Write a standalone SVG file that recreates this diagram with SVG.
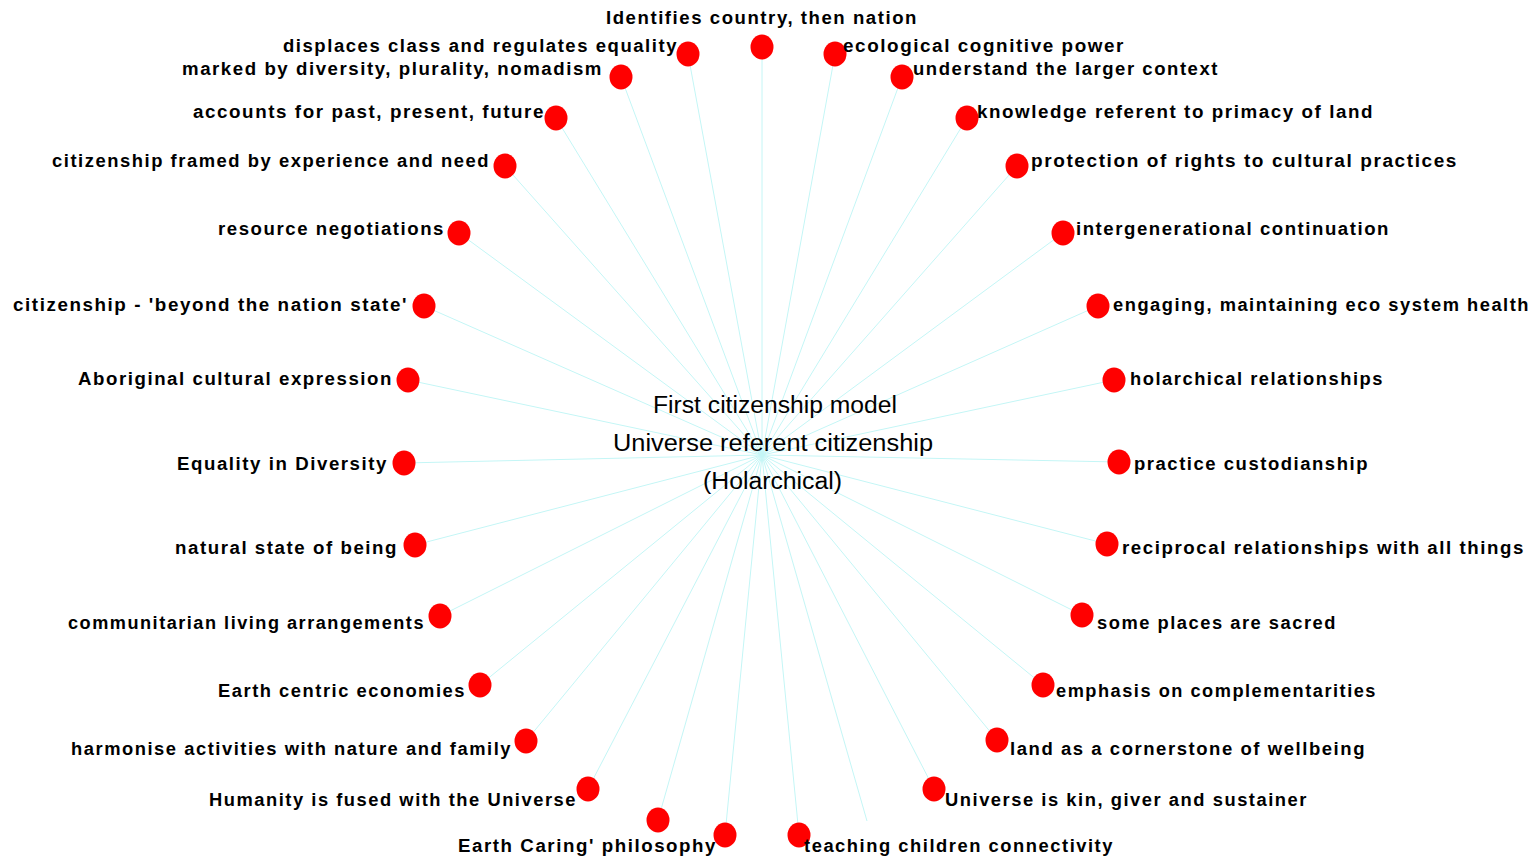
<svg xmlns="http://www.w3.org/2000/svg" width="1539" height="863" viewBox="0 0 1539 863">
<style>
.bg{fill:#ffffff}
.e{stroke:#c4f6f6;stroke-width:1;fill:none}
.d{fill:#ff0000}
.t{font-family:"Liberation Sans",Arial,sans-serif;font-weight:bold;font-size:18px;letter-spacing:1.5px;fill:#000000}
.c{font-family:"Liberation Sans",Arial,sans-serif;font-size:23px;fill:#000000}
</style>
<rect class="bg" x="0" y="0" width="1539" height="863"/>
<g id="connectors">
<line class="e" x1="762" y1="455" x2="762" y2="47"/>
<line class="e" x1="762" y1="455" x2="688" y2="54"/>
<line class="e" x1="762" y1="455" x2="621" y2="77"/>
<line class="e" x1="762" y1="455" x2="556" y2="118"/>
<line class="e" x1="762" y1="455" x2="505" y2="166"/>
<line class="e" x1="762" y1="455" x2="459" y2="233"/>
<line class="e" x1="762" y1="455" x2="424" y2="306"/>
<line class="e" x1="762" y1="455" x2="408" y2="380"/>
<line class="e" x1="762" y1="455" x2="404" y2="463"/>
<line class="e" x1="762" y1="455" x2="415" y2="545"/>
<line class="e" x1="762" y1="455" x2="440" y2="616"/>
<line class="e" x1="762" y1="455" x2="480" y2="685"/>
<line class="e" x1="762" y1="455" x2="526" y2="741"/>
<line class="e" x1="762" y1="455" x2="588" y2="789"/>
<line class="e" x1="762" y1="455" x2="658" y2="820"/>
<line class="e" x1="762" y1="455" x2="725" y2="835"/>
<line class="e" x1="762" y1="455" x2="799" y2="835"/>
<line class="e" x1="762" y1="455" x2="867" y2="821"/>
<line class="e" x1="762" y1="455" x2="934" y2="789"/>
<line class="e" x1="762" y1="455" x2="997" y2="740"/>
<line class="e" x1="762" y1="455" x2="1043" y2="685"/>
<line class="e" x1="762" y1="455" x2="1082" y2="615"/>
<line class="e" x1="762" y1="455" x2="1107" y2="544"/>
<line class="e" x1="762" y1="455" x2="1119" y2="462"/>
<line class="e" x1="762" y1="455" x2="1114" y2="380"/>
<line class="e" x1="762" y1="455" x2="1098" y2="306"/>
<line class="e" x1="762" y1="455" x2="1063" y2="233"/>
<line class="e" x1="762" y1="455" x2="1017" y2="166"/>
<line class="e" x1="762" y1="455" x2="967" y2="118"/>
<line class="e" x1="762" y1="455" x2="902" y2="77"/>
<line class="e" x1="762" y1="455" x2="835" y2="54"/>
</g>
<g id="center">
<text class="c" x="653" y="413" textLength="244" lengthAdjust="spacingAndGlyphs">First citizenship model</text>
<text class="c" x="613" y="451" textLength="320" lengthAdjust="spacingAndGlyphs">Universe referent citizenship</text>
<text class="c" x="703" y="489" textLength="139" lengthAdjust="spacingAndGlyphs">(Holarchical)</text>
</g>
<g id="n1"><ellipse class="d" cx="762" cy="47" rx="11.5" ry="12.5"/><text class="t" x="606" y="24" textLength="312" lengthAdjust="spacingAndGlyphs">Identifies country, then nation</text></g>
<g id="n2"><ellipse class="d" cx="688" cy="54" rx="11.5" ry="12.5"/><text class="t" x="283" y="52" textLength="395" lengthAdjust="spacingAndGlyphs">displaces class and regulates equality</text></g>
<g id="n3"><ellipse class="d" cx="621" cy="77" rx="11.5" ry="12.5"/><text class="t" x="182" y="75" textLength="421" lengthAdjust="spacingAndGlyphs">marked by diversity, plurality, nomadism</text></g>
<g id="n4"><ellipse class="d" cx="556" cy="118" rx="11.5" ry="12.5"/><text class="t" x="193" y="118" textLength="352" lengthAdjust="spacingAndGlyphs">accounts for past, present, future</text></g>
<g id="n5"><ellipse class="d" cx="505" cy="166" rx="11.5" ry="12.5"/><text class="t" x="52" y="167" textLength="438" lengthAdjust="spacingAndGlyphs">citizenship framed by experience and need</text></g>
<g id="n6"><ellipse class="d" cx="459" cy="233" rx="11.5" ry="12.5"/><text class="t" x="218" y="235" textLength="227" lengthAdjust="spacingAndGlyphs">resource negotiations</text></g>
<g id="n7"><ellipse class="d" cx="424" cy="306" rx="11.5" ry="12.5"/><text class="t" x="13" y="311" textLength="395" lengthAdjust="spacingAndGlyphs">citizenship - 'beyond the nation state'</text></g>
<g id="n8"><ellipse class="d" cx="408" cy="380" rx="11.5" ry="12.5"/><text class="t" x="78" y="385" textLength="315" lengthAdjust="spacingAndGlyphs">Aboriginal cultural expression</text></g>
<g id="n9"><ellipse class="d" cx="404" cy="463" rx="11.5" ry="12.5"/><text class="t" x="177" y="470" textLength="211" lengthAdjust="spacingAndGlyphs">Equality in Diversity</text></g>
<g id="n10"><ellipse class="d" cx="415" cy="545" rx="11.5" ry="12.5"/><text class="t" x="175" y="554" textLength="223" lengthAdjust="spacingAndGlyphs">natural state of being</text></g>
<g id="n11"><ellipse class="d" cx="440" cy="616" rx="11.5" ry="12.5"/><text class="t" x="68" y="629" textLength="357" lengthAdjust="spacingAndGlyphs">communitarian living arrangements</text></g>
<g id="n12"><ellipse class="d" cx="480" cy="685" rx="11.5" ry="12.5"/><text class="t" x="218" y="697" textLength="248" lengthAdjust="spacingAndGlyphs">Earth centric economies</text></g>
<g id="n13"><ellipse class="d" cx="526" cy="741" rx="11.5" ry="12.5"/><text class="t" x="71" y="755" textLength="441" lengthAdjust="spacingAndGlyphs">harmonise activities with nature and family</text></g>
<g id="n14"><ellipse class="d" cx="588" cy="789" rx="11.5" ry="12.5"/><text class="t" x="209" y="806" textLength="368" lengthAdjust="spacingAndGlyphs">Humanity is fused with the Universe</text></g>
<g id="n15"><ellipse class="d" cx="658" cy="820" rx="11.5" ry="12.5"/></g>
<g id="n16"><ellipse class="d" cx="725" cy="835" rx="11.5" ry="12.5"/><text class="t" x="458" y="852" textLength="259" lengthAdjust="spacingAndGlyphs">Earth Caring' philosophy</text></g>
<g id="n17"><ellipse class="d" cx="799" cy="835" rx="11.5" ry="12.5"/><text class="t" x="804" y="852" textLength="310" lengthAdjust="spacingAndGlyphs">teaching children connectivity</text></g>
<g id="n18"><ellipse class="d" cx="934" cy="789" rx="11.5" ry="12.5"/><text class="t" x="945" y="806" textLength="363" lengthAdjust="spacingAndGlyphs">Universe is kin, giver and sustainer</text></g>
<g id="n19"><ellipse class="d" cx="997" cy="740" rx="11.5" ry="12.5"/><text class="t" x="1010" y="755" textLength="356" lengthAdjust="spacingAndGlyphs">land as a cornerstone of wellbeing</text></g>
<g id="n20"><ellipse class="d" cx="1043" cy="685" rx="11.5" ry="12.5"/><text class="t" x="1056" y="697" textLength="321" lengthAdjust="spacingAndGlyphs">emphasis on complementarities</text></g>
<g id="n21"><ellipse class="d" cx="1082" cy="615" rx="11.5" ry="12.5"/><text class="t" x="1097" y="629" textLength="240" lengthAdjust="spacingAndGlyphs">some places are sacred</text></g>
<g id="n22"><ellipse class="d" cx="1107" cy="544" rx="11.5" ry="12.5"/><text class="t" x="1122" y="554" textLength="403" lengthAdjust="spacingAndGlyphs">reciprocal relationships with all things</text></g>
<g id="n23"><ellipse class="d" cx="1119" cy="462" rx="11.5" ry="12.5"/><text class="t" x="1134" y="470" textLength="235" lengthAdjust="spacingAndGlyphs">practice custodianship</text></g>
<g id="n24"><ellipse class="d" cx="1114" cy="380" rx="11.5" ry="12.5"/><text class="t" x="1130" y="385" textLength="254" lengthAdjust="spacingAndGlyphs">holarchical relationships</text></g>
<g id="n25"><ellipse class="d" cx="1098" cy="306" rx="11.5" ry="12.5"/><text class="t" x="1113" y="311" textLength="417" lengthAdjust="spacingAndGlyphs">engaging, maintaining eco system health</text></g>
<g id="n26"><ellipse class="d" cx="1063" cy="233" rx="11.5" ry="12.5"/><text class="t" x="1076" y="235" textLength="314" lengthAdjust="spacingAndGlyphs">intergenerational continuation</text></g>
<g id="n27"><ellipse class="d" cx="1017" cy="166" rx="11.5" ry="12.5"/><text class="t" x="1031" y="167" textLength="427" lengthAdjust="spacingAndGlyphs">protection of rights to cultural practices</text></g>
<g id="n28"><ellipse class="d" cx="967" cy="118" rx="11.5" ry="12.5"/><text class="t" x="977" y="118" textLength="397" lengthAdjust="spacingAndGlyphs">knowledge referent to primacy of land</text></g>
<g id="n29"><ellipse class="d" cx="902" cy="77" rx="11.5" ry="12.5"/><text class="t" x="913" y="75" textLength="306" lengthAdjust="spacingAndGlyphs">understand the larger context</text></g>
<g id="n30"><ellipse class="d" cx="835" cy="54" rx="11.5" ry="12.5"/><text class="t" x="843" y="52" textLength="282" lengthAdjust="spacingAndGlyphs">ecological cognitive power</text></g>
</svg>
